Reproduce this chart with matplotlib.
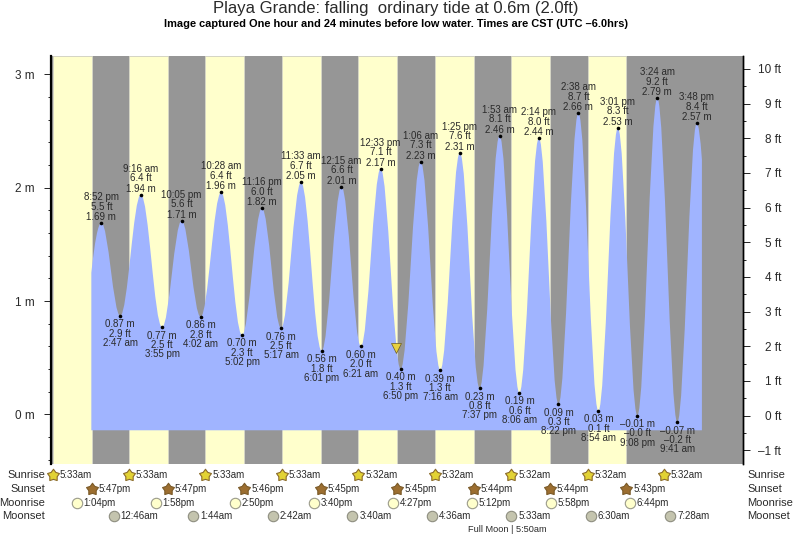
import matplotlib
matplotlib.use("Agg")
import matplotlib.pyplot as plt
from matplotlib.path import Path
from matplotlib.patches import PathPatch

W, H = 793, 537
plt.rcParams["font.family"] = ["Liberation Sans", "DejaVu Sans"]

# hours counted from midnight of the first day
extreme_hours = [20.87, 26.78, 33.27, 39.92, 46.08, 52.03, 58.47, 65.03, 71.27, 77.28, 83.55,
                 90.02, 96.25, 102.35, 108.55, 114.83, 121.10, 127.27, 133.42, 139.62, 145.88,
                 152.10, 158.23, 164.37, 170.63, 176.90, 183.02, 189.13, 195.40, 201.68, 207.80]
extreme_m = [1.69, 0.87, 1.94, 0.77, 1.71, 0.86, 1.96, 0.70, 1.82, 0.76, 2.05,
             0.56, 2.01, 0.60, 2.17, 0.40, 2.23, 0.39, 2.31, 0.23, 2.46,
             0.19, 2.44, 0.09, 2.66, 0.03, 2.53, -0.01, 2.79, -0.07, 2.57]
extreme_ft = ["5.5 ft", "2.9 ft", "6.4 ft", "2.5 ft", "5.6 ft", "2.8 ft", "6.4 ft", "2.3 ft", "6.0 ft", "2.5 ft", "6.7 ft",
              "1.8 ft", "6.6 ft", "2.0 ft", "7.1 ft", "1.3 ft", "7.3 ft", "1.3 ft", "7.6 ft", "0.8 ft", "8.1 ft",
              "0.6 ft", "8.0 ft", "0.3 ft", "8.7 ft", "0.1 ft", "8.3 ft", "\u20130.0 ft", "9.2 ft", "\u20130.2 ft", "8.4 ft"]
extreme_time = ["8:52 pm", "2:47 am", "9:16 am", "3:55 pm", "10:05 pm", "4:02 am", "10:28 am", "5:02 pm", "11:16 pm", "5:17 am", "11:33 am",
                "6:01 pm", "12:15 am", "6:21 am", "12:33 pm", "6:50 pm", "1:06 am", "7:16 am", "1:25 pm", "7:37 pm", "1:53 am",
                "8:06 am", "2:14 pm", "8:22 pm", "2:38 am", "8:54 am", "3:01 pm", "9:08 pm", "3:24 am", "9:41 am", "3:48 pm"]

curve_start = (17.72, 1.25)
curve_end = (209.4, 2.25)
curve_floor = -0.14
now_hour, now_m = 113.43, 0.60

sunrise_hours = [5.55, 29.55, 53.55, 77.55, 101.53, 125.53, 149.53, 173.53, 197.53]
sunrise_text = ["5:33am", "5:33am", "5:33am", "5:33am", "5:32am", "5:32am", "5:32am", "5:32am", "5:32am"]
sunset_hours = [17.78, 41.78, 65.77, 89.75, 113.75, 137.73, 161.73, 185.72]
sunset_text = ["5:47pm", "5:47pm", "5:46pm", "5:45pm", "5:45pm", "5:44pm", "5:44pm", "5:43pm"]
moonrise_hours = [13.07, 37.97, 62.83, 87.67, 112.45, 137.20, 161.97, 186.73]
moonrise_text = ["1:04pm", "1:58pm", "2:50pm", "3:40pm", "4:27pm", "5:12pm", "5:58pm", "6:44pm"]
moonset_hours = [24.77, 49.73, 74.70, 99.67, 124.60, 149.55, 174.50, 199.47]
moonset_text = ["12:46am", "1:44am", "2:42am", "3:40am", "4:36am", "5:33am", "6:30am", "7:28am"]

YELLOW = "#FFFFCC"
GRAY = "#969696"
BLUE = "#A0B4FF"
TXT = "#2A2A2A"


def fy(py):
    return 1 - py / H


fig = plt.figure(figsize=(W / 100, H / 100), dpi=100)
ax = fig.add_axes([50.5 / W, fy(464), (743 - 50.5) / W, (464 - 56) / H])
ax.set_xlim(4.9, 222.3)
ax.set_ylim(-0.4375, 3.163)
ax.set_facecolor(GRAY)

# daylight bands, the last sunrise has no band in the picture
for rise, sset in zip(sunrise_hours, sunset_hours):
    ax.axvspan(rise, sset, facecolor=YELLOW, edgecolor="#D8D8C8", lw=0.6, zorder=1)

# water: smooth curve through the read highs and lows
first_dt = extreme_hours[0] - curve_start[0]
verts = [(curve_start[0], curve_floor), curve_start,
         (curve_start[0] + first_dt * 0.33, curve_start[1] + (extreme_m[0] - curve_start[1]) * 0.62),
         (extreme_hours[0] - first_dt * 0.33, extreme_m[0]),
         (extreme_hours[0], extreme_m[0])]
codes = [Path.MOVETO, Path.LINETO, Path.CURVE4, Path.CURVE4, Path.CURVE4]
for i in range(len(extreme_hours) - 1):
    t0, t1 = extreme_hours[i], extreme_hours[i + 1]
    m0, m1 = extreme_m[i], extreme_m[i + 1]
    dt = (t1 - t0) * 0.3642
    verts += [(t0 + dt, m0), (t1 - dt, m1), (t1, m1)]
    codes += [Path.CURVE4] * 3
last_dt = curve_end[0] - extreme_hours[-1]
verts += [(extreme_hours[-1] + last_dt * 0.33, extreme_m[-1]),
          (curve_end[0] - last_dt * 0.33, curve_end[1] + (extreme_m[-1] - curve_end[1]) * 0.62),
          curve_end, (curve_end[0], curve_floor), (curve_start[0], curve_floor), (0, 0)]
codes += [Path.CURVE4] * 3 + [Path.LINETO, Path.LINETO, Path.CLOSEPOLY]
ax.add_patch(PathPatch(Path(verts, codes), facecolor=BLUE, edgecolor="none", zorder=2))

ax.plot(extreme_hours, extreme_m, "o", color="black", ms=2.6, mew=0, zorder=4)
ax.plot([now_hour], [now_m - 0.015], "v", color="#E8D040", mec="#6B5A20", mew=0.5, ms=7, zorder=5)

for i, (t, m) in enumerate(zip(extreme_hours, extreme_m)):
    m_txt = f"{m:.2f} m".replace("-", "\u2013")
    high = i % 2 == 0
    rows = [m_txt, extreme_ft[i], extreme_time[i]]
    offsets = [4.3, 11.7, 18.6] if high else [-6.0, -12.8, -19.5]
    for row, off in zip(rows, offsets):
        ax.annotate(row, (t, m), xytext=(0, off), textcoords="offset points", ha="center", va="center",
                    fontsize=7, color=TXT, zorder=6, annotation_clip=False)

# axes frame and the two scales
for side in ["top", "bottom"]:
    ax.spines[side].set_visible(False)
ax.spines["left"].set_linewidth(1.6)
ax.spines["right"].set_linewidth(1.0)
ax.set_xticks([])
ax.set_yticks([0, 1, 2, 3], ["0 m", "1 m", "2 m", "3 m"])
ax.set_yticks([v / 5 for v in range(-2, 16) if v % 5], minor=True)
ax.tick_params(axis="y", which="major", length=5, width=0.6, labelsize=8.5, pad=6.5, labelcolor=TXT)
ax.tick_params(axis="y", which="minor", length=2.5, width=0.6)

ax2 = ax.twinx()
ax2.set_ylim(-1.395, 10.37)
for side in ["top", "bottom", "left"]:
    ax2.spines[side].set_visible(False)
ax2.spines["right"].set_linewidth(1.0)
ft_ticks = list(range(-1, 11))
ax2.set_yticks(ft_ticks, [f"{v} ft".replace("-", "\u2013") for v in ft_ticks])
ax2.set_yticks([v + 0.5 for v in ft_ticks[:-1]], minor=True)
ax2.tick_params(axis="y", which="major", length=5, width=0.6, labelsize=8.5, pad=6, labelcolor=TXT)
ax2.tick_params(axis="y", which="minor", length=2.5, width=0.6)
for lab in ax2.get_yticklabels():
    lab.set_ha("right")
    lab.set_x(1.0328)

# sun and moon rows under the chart
star = Path.unit_regular_star(5, innerCircle=0.62)
rows = [("Sunrise", 475, sunrise_hours, sunrise_text, star, "#E2D234", "#8A6A2A", 9),
        ("Sunset", 489, sunset_hours, sunset_text, star, "#9C6E30", "#7A5A28", 9),
        ("Moonrise", 503, moonrise_hours, moonrise_text, "o", YELLOW, "#9A9A8A", 7.5),
        ("Moonset", 516, moonset_hours, moonset_text, "o", "#C4C4AE", "#8E8E80", 7.5)]
xt = ax.get_xaxis_transform()
for name, py, hours, texts, marker, face, edge, size in rows:
    ay = (464 - py) / (464 - 56)
    fig.text(45 / W, fy(py), name, ha="right", va="center", fontsize=8, color=TXT)
    fig.text(747 / W, fy(py), name, ha="left", va="center", fontsize=8, color=TXT)
    ax.plot(hours, [ay] * len(hours), ls="none", marker=marker, ms=size, mfc=face, mec=edge, mew=0.8,
            transform=xt, clip_on=False, zorder=7)
    for h, s in zip(hours, texts):
        ax.annotate(s, (h, ay), xycoords=xt, xytext=(5, 0), textcoords="offset points", ha="left", va="center",
                    fontsize=7, color=TXT, annotation_clip=False)

fig.text(507 / W, fy(530), "Full Moon | 5:50am", ha="center", va="center", fontsize=6.6, color=TXT)
fig.text(396 / W, fy(8.5), "Playa Grande: falling  ordinary tide at 0.6m (2.0ft)", ha="center", va="center",
         fontsize=12, color=TXT)
fig.text(396.5 / W, fy(24), "Image captured One hour and 24 minutes before low water. Times are CST (UTC \u20136.0hrs)",
         ha="center", va="center", fontsize=7.95, fontweight="bold", color="black")

fig.savefig("out.png", dpi=100)
